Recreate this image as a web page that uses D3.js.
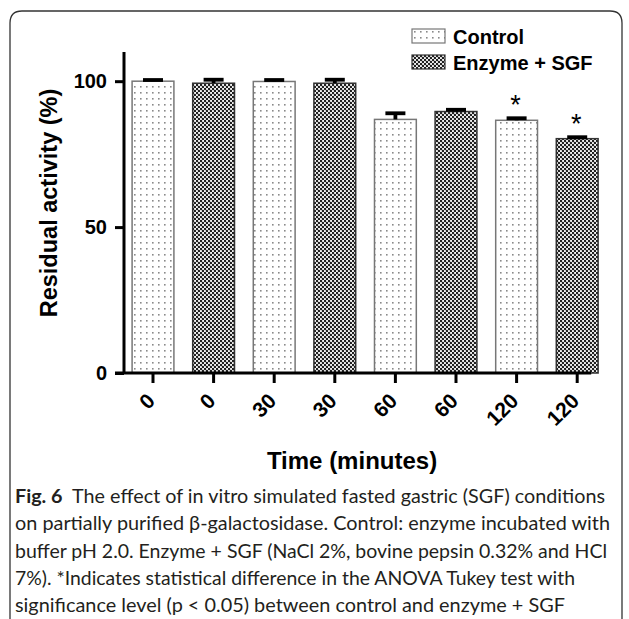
<!DOCTYPE html>
<html>
<head>
<meta charset="utf-8">
<script src="https://cdn.jsdelivr.net/npm/d3@7"></script>
<style>
	html, body { margin: 0; padding: 0; background: #fff; }
	svg { display: block; }
</style>
</head>
<body>
<div id="chart"></div>
<script>
// time points on the x axis, one per bar
const categories = ["0", "0", "30", "30", "60", "60", "120", "120"];
const groups = ["Control", "Enzyme + SGF", "Control", "Enzyme + SGF", "Control", "Enzyme + SGF", "Control", "Enzyme + SGF"];
const means = [100, 99.3, 99.9, 99.3, 86.9, 89.6, 86.6, 80.3];
const errors = [0.4, 1.2, 0.5, 1.2, 2.1, 0.6, 0.7, 0.5];
const significant = [false, false, false, false, false, false, true, true];
const yTicks = [0, 50, 100];
const legendLabels = ["Control", "Enzyme + SGF"];
const captionLines = [
	["Fig. 6", "  The effect of in vitro simulated fasted gastric (SGF) conditions"],
	["", "on partially purified β-galactosidase. Control: enzyme incubated with"],
	["", "buffer pH 2.0. Enzyme + SGF (NaCl 2%, bovine pepsin 0.32% and HCl"],
	["", "7%). *Indicates statistical difference in the ANOVA Tukey test with"],
	["", "significance level (p < 0.05) between control and enzyme + SGF"],
];
const captionWidths = [590, 595, 592, 560, 550];

const width = 629;
const height = 619;
const bold = "'Liberation Sans', Arial, sans-serif";

const svg = d3
	.select("#chart")
	.append("svg")
	.attr("width", width)
	.attr("height", height);

// patterns
const defs = svg.append("defs");
const dots = defs
	.append("pattern")
	.attr("id", "dots")
	.attr("patternUnits", "userSpaceOnUse")
	.attr("width", 6)
	.attr("height", 6);
dots.append("rect").attr("width", 6).attr("height", 6).attr("fill", "#fff");
dots.append("rect").attr("x", 2).attr("y", 2).attr("width", 1.6).attr("height", 1.6).attr("fill", "#8a8a8a");

const checks = defs
	.append("pattern")
	.attr("id", "checks")
	.attr("patternUnits", "userSpaceOnUse")
	.attr("width", 4)
	.attr("height", 4);
checks.append("rect").attr("width", 4).attr("height", 4).attr("fill", "#f2f2f2");
checks.append("circle").attr("cx", 1).attr("cy", 1).attr("r", 1.2).attr("fill", "#1a1a1a");
checks.append("circle").attr("cx", 3).attr("cy", 3).attr("r", 1.2).attr("fill", "#1a1a1a");

const fillFor = (g) => (g === "Control" ? "url(#dots)" : "url(#checks)");
const strokeFor = (g) => (g === "Control" ? "#777" : "#333");

// frame around figure
const fr = { left: 10, top: 11, right: 622, r: 12 };
svg
	.append("path")
	.attr(
		"d",
		`M${fr.left},${height} V${fr.top + fr.r} Q${fr.left},${fr.top} ${fr.left + fr.r},${fr.top} H${fr.right - fr.r} Q${fr.right},${fr.top} ${fr.right},${fr.top + fr.r} V${height}`
	)
	.attr("fill", "none")
	.attr("stroke", "#333")
	.attr("stroke-width", 1.3);

const margin = { top: 52, bottom: 373, left: 124 };

const xScale = d3
	.scaleBand()
	.domain(d3.range(categories.length))
	.range([122.7, 607.5])
	.paddingInner(0.31)
	.paddingOuter(0.155);

const yScale = d3.scaleLinear().domain([0, 110]).range([margin.bottom, margin.top]);

// bars
svg
	.append("g")
	.selectAll("rect")
	.data(means)
	.enter()
	.append("rect")
	.attr("x", (d, i) => xScale(i))
	.attr("y", (d) => yScale(d))
	.attr("width", xScale.bandwidth())
	.attr("height", (d) => yScale(0) - yScale(d))
	.attr("fill", (d, i) => fillFor(groups[i]))
	.attr("stroke", (d, i) => strokeFor(groups[i]))
	.attr("stroke-width", 1.5);

// error bars (upper only)
const err = svg.append("g").attr("stroke", "#000").attr("stroke-width", 3.8);
err
	.selectAll("line.stem")
	.data(means)
	.enter()
	.append("line")
	.attr("x1", (d, i) => xScale(i) + xScale.bandwidth() / 2)
	.attr("x2", (d, i) => xScale(i) + xScale.bandwidth() / 2)
	.attr("y1", (d) => yScale(d))
	.attr("y2", (d, i) => yScale(d + errors[i]));
err
	.selectAll("line.cap")
	.data(means)
	.enter()
	.append("line")
	.attr("x1", (d, i) => xScale(i) + xScale.bandwidth() / 2 - 10)
	.attr("x2", (d, i) => xScale(i) + xScale.bandwidth() / 2 + 10)
	.attr("y1", (d, i) => yScale(d + errors[i]))
	.attr("y2", (d, i) => yScale(d + errors[i]));

// significance stars
svg
	.append("g")
	.selectAll("text")
	.data(means.map((d, i) => i).filter((i) => significant[i]))
	.enter()
	.append("text")
	.attr("x", (i) => xScale(i) + xScale.bandwidth() / 2 - 1)
	.attr("y", (i) => yScale(means[i] + errors[i]) - 4)
	.attr("text-anchor", "middle")
	.style("font-family", bold)
	.style("font-size", "27px")
	.text("*");

// y axis
const yAxis = svg
	.append("g")
	.attr("transform", `translate(${margin.left},0)`)
	.call(d3.axisLeft(yScale).tickValues(yTicks).tickSize(9).tickSizeOuter(0).tickPadding(8));
yAxis.select(".domain").attr("stroke-width", 3).attr("d", `M0,${margin.top}V${margin.bottom}`);
yAxis.selectAll(".tick line").attr("stroke-width", 3);
yAxis
	.selectAll(".tick text")
	.style("font-family", bold)
	.style("font-weight", "bold")
	.style("font-size", "20px")
	.attr("fill", "#000");

// x axis
const lastCenter = xScale(categories.length - 1) + xScale.bandwidth() / 2;
const xAxis = svg
	.append("g")
	.attr("transform", `translate(0,${margin.bottom})`)
	.call(
		d3
			.axisBottom(xScale)
			.tickFormat((i) => categories[i])
			.tickSize(10)
			.tickSizeOuter(0)
	);
xAxis.select(".domain").attr("stroke-width", 3).attr("d", `M${margin.left - 9},0H${lastCenter + 14}`);
xAxis.selectAll(".tick line").attr("stroke-width", 3);
xAxis
	.selectAll(".tick text")
	.attr("y", 0)
	.attr("dy", "0.35em")
	.attr("text-anchor", "end")
	.attr("transform", "translate(-2,24) rotate(-45)")
	.style("font-family", bold)
	.style("font-weight", "bold")
	.style("font-size", "21px")
	.attr("fill", "#000");

// axis titles
svg
	.append("text")
	.attr("transform", `translate(57,203) rotate(-90)`)
	.attr("text-anchor", "middle")
	.style("font-family", bold)
	.style("font-weight", "bold")
	.style("font-size", "23.5px")
	.text("Residual activity (%)");

svg
	.append("text")
	.attr("x", 352)
	.attr("y", 469)
	.attr("text-anchor", "middle")
	.style("font-family", bold)
	.style("font-weight", "bold")
	.style("font-size", "24px")
	.text("Time (minutes)");

// legend
const legend = svg
	.append("g")
	.selectAll("g")
	.data(legendLabels)
	.enter()
	.append("g")
	.attr("transform", (d, i) => `translate(412,${29 + i * 26})`);
legend
	.append("rect")
	.attr("width", 33)
	.attr("height", 14)
	.attr("fill", (d) => fillFor(d))
	.attr("stroke", (d) => strokeFor(d))
	.attr("stroke-width", 1.2);
legend
	.append("text")
	.attr("x", 41)
	.attr("y", 15)
	.style("font-family", bold)
	.style("font-weight", "bold")
	.style("font-size", "20px")
	.text((d) => d);

// caption
const caption = svg
	.append("g")
	.selectAll("text")
	.data(captionLines)
	.enter()
	.append("text")
	.attr("x", 15)
	.attr("y", (d, i) => 503 + i * 27.3)
	.attr("textLength", (d, i) => captionWidths[i])
	.attr("lengthAdjust", "spacingAndGlyphs")
	.style("font-family", "Lato, 'Noto Sans', sans-serif")
	.style("font-size", "19px")
	.attr("fill", "#231f20")
	.attr("xml:space", "preserve");
caption
	.append("tspan")
	.style("font-weight", "bold")
	.text((d) => d[0]);
caption.append("tspan").text((d) => d[1]);
</script>
</body>
</html>
